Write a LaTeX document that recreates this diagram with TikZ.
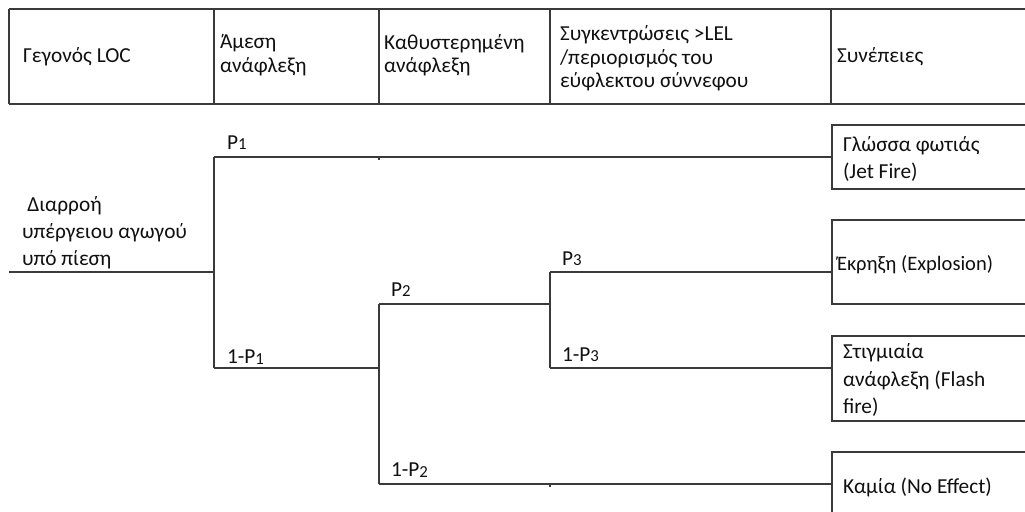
\documentclass[tikz,border=0pt]{standalone}
\usepackage{fontspec}
\setmainfont{Carlito}
\definecolor{linegray}{HTML}{3A3A3A}
\definecolor{textc}{HTML}{101010}
\newcommand\psub[1]{\raisebox{-0.2pt}{\fontsize{12.6}{12.6}\selectfont #1}}
\begin{document}
\begin{tikzpicture}[x=0.75pt,y=-0.75pt,
  ln/.style={draw=linegray, line width=1.4pt},
  txt/.style={anchor=west, inner sep=0pt, outer sep=0pt, align=left, text=textc,
    font=\fontsize{16}{20.3}\selectfont},
  hd/.style={txt, font=\fontsize{16}{17.6}\selectfont},
  lbl/.style={txt}]
\useasboundingbox (0,0) rectangle (1025,511);

% header table
\draw[ln] (9,9) -- (1025,9);
\draw[ln] (9,104) -- (1025,104);
\foreach \x in {9,214,379,550,831} \draw[ln] (\x,9) -- (\x,104);
\node[hd] (h1) at (23,57) {Γεγονός LOC};
\node[hd] (h2) at (220,55) {Άμεση\\ανάφλεξη};
\node[hd] (h3) at (384,55) {Καθυστερημένη\\ανάφλεξη};
\node[hd] (h4) at (560,58.5) {Συγκεντρώσεις >LEL\\/περιορισμός του\\εύφλεκτου σύννεφου};
\node[hd] (h5) at (837,57) {Συνέπειες};

% tree junctions
\coordinate (root) at (9,272);
\coordinate (A) at (214,272);
\coordinate (A1) at (214,157);
\coordinate (A2) at (214,368);
\coordinate (B) at (379,368);
\coordinate (B1) at (379,304);
\coordinate (B2) at (379,484);
\coordinate (C) at (550,304);
\coordinate (C1) at (550,272);
\coordinate (C2) at (550,368);
\coordinate (E1) at (832,157);
\coordinate (E2) at (832,272);
\coordinate (E3) at (832,368);
\coordinate (E4) at (832,484);

\draw[ln] (root) -- (A);
\draw[ln] (A1) -- (A2);
\draw[ln] (A1) -- (E1);
\draw[ln] (A2) -- (B);
\draw[ln] (B1) -- (B2);
\draw[ln] (B1) -- (C);
\draw[ln] (C1) -- (C2);
\draw[ln] (C1) -- (E2);
\draw[ln] (C2) -- (E3);
\draw[ln] (B2) -- (E4);
% small cell-border ticks
\draw[ln] (379,157) -- (379,160);
\draw[ln] (550,484) -- (550,487);

% outcome boxes (open to the right)
\draw[ln] (1025,125) -- (832,125) -- (832,189) -- (1025,189);
\draw[ln] (1025,220) -- (832,220) -- (832,304) -- (1025,304);
\draw[ln] (1025,336) -- (832,336) -- (832,421) -- (1025,421);
\draw[ln] (1025,452) -- (832,452) -- (832,515);

% labels
\node[txt] (ev) at (22,233) {\hspace{4pt}Διαρροή\\υπέργειου αγωγού\\υπό πίεση};
\node[lbl] (p1) at (227,143) {P\psub{1}};
\node[lbl] (q1) at (227,357) {1-P\psub{1}};
\node[lbl] (p2) at (391,290) {P\psub{2}};
\node[lbl] (q2) at (391,470) {1-P\psub{2}};
\node[lbl] (p3) at (562,259) {P\psub{3}};
\node[lbl] (q3) at (562,355) {1-P\psub{3}};

\node[txt] (o1) at (843,158.5) {Γλώσσα φωτιάς\\(Jet Fire)};
\node[txt, font=\fontsize{15.4}{20.3}\selectfont] (o2) at (837,265) {Έκρηξη (Explosion)};
\node[txt] (o3) at (843,380) {Στιγμιαία\\ανάφλεξη (Flash\\fire)};
\node[txt] (o4) at (843,487) {Καμία (No Effect)};
\end{tikzpicture}
\end{document}
